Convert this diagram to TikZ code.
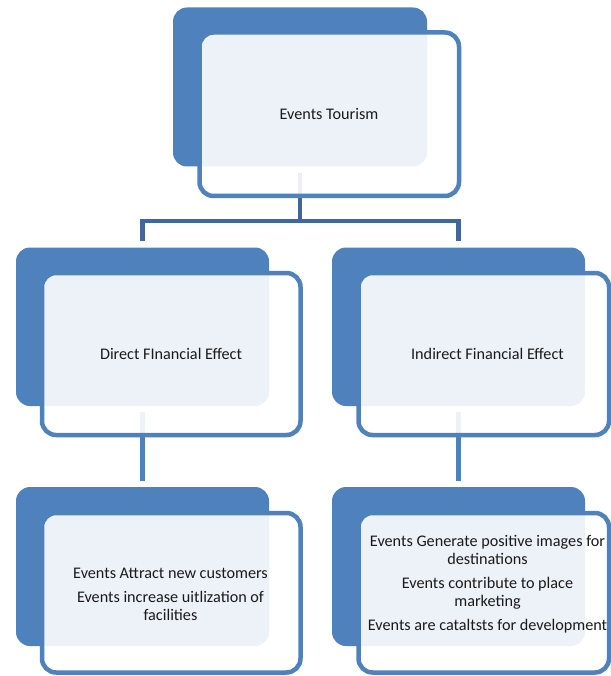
\documentclass[tikz,border=0pt]{standalone}
\usepackage{fontspec}
\setmainfont{Carlito}
\usetikzlibrary{calc}
\definecolor{accent}{HTML}{4F81BD}
\definecolor{conndark}{HTML}{41669A}
\definecolor{txt}{HTML}{1A1A1A}
\tikzset{
  backbox/.style={fill=accent, draw=none, rounded corners=14pt, inner sep=0pt},
  frontbox/.style={fill=white, fill opacity=0.9, draw=accent, draw opacity=1,
    line width=4.5pt, rounded corners=14pt, inner sep=0pt},
  conn/.style={line width=4.5pt, line cap=butt},
  lbl/.style={text=txt, font=\fontsize{16.2}{17.6}\selectfont, align=center, inner sep=0pt},
}
\begin{document}
\begin{tikzpicture}[x=1pt,y=-1pt]
\useasboundingbox (0,0) rectangle (610,676);
% back boxes
\node[backbox, minimum width=254pt, minimum height=159pt] (tb) at (300,87) {};
\node[backbox, minimum width=253pt, minimum height=158.5pt] (ml) at (142.5,326.75) {};
\node[backbox, minimum width=253pt, minimum height=158.5pt] (mr) at (458.5,326.75) {};
\node[backbox, minimum width=253pt, minimum height=159pt] (bl) at (142.5,566.5) {};
\node[backbox, minimum width=253pt, minimum height=159pt] (br) at (458.5,566.5) {};
% connectors
\coordinate (jt) at (300,221);
\draw[conn, draw=conndark] ($(tb.south)+(0,6)$) -- (jt);
\draw[conn, draw=conndark] ($(ml.north)+(0,-6)$) |- (jt) -| ($(mr.north)+(0,-6)$);
\draw[conn, draw=accent] ($(ml.south)+(0,6)$) -- ($(bl.north)+(0,-6)$);
\draw[conn, draw=accent] ($(mr.south)+(0,6)$) -- ($(br.north)+(0,-6)$);
% front boxes
\node[frontbox, minimum width=259.5pt, minimum height=163.5pt] (tf) at (329.25,114.25) {};
\node[frontbox, minimum width=258.5pt, minimum height=162pt] (mlf) at (171.25,354) {};
\node[frontbox, minimum width=250.5pt, minimum height=162pt] (mrf) at (483.75,354) {};
\node[frontbox, minimum width=258.5pt, minimum height=159.5pt] (blf) at (171.25,592.75) {};
\node[frontbox, minimum width=250.5pt, minimum height=159.5pt] (brf) at (483.75,592.75) {};
% labels
\node[lbl] (t0) at (329,114) {Events Tourism};
\node[lbl] (t1) at (171,354) {Direct FInancial Effect};
\node[lbl] (t2) at (487.5,354) {Indirect Financial Effect};
\node[lbl, anchor=north] (t3) at (170.5,567.5) {Events Attract new customers\\[7pt]Events increase uitlization of\\facilities};
\node[lbl, anchor=north] (t4) at (487.5,535) {Events Generate positive images for\\destinations\\[7pt]Events contribute to place\\marketing\\[7pt]Events are cataltsts for development};
\end{tikzpicture}
\end{document}
